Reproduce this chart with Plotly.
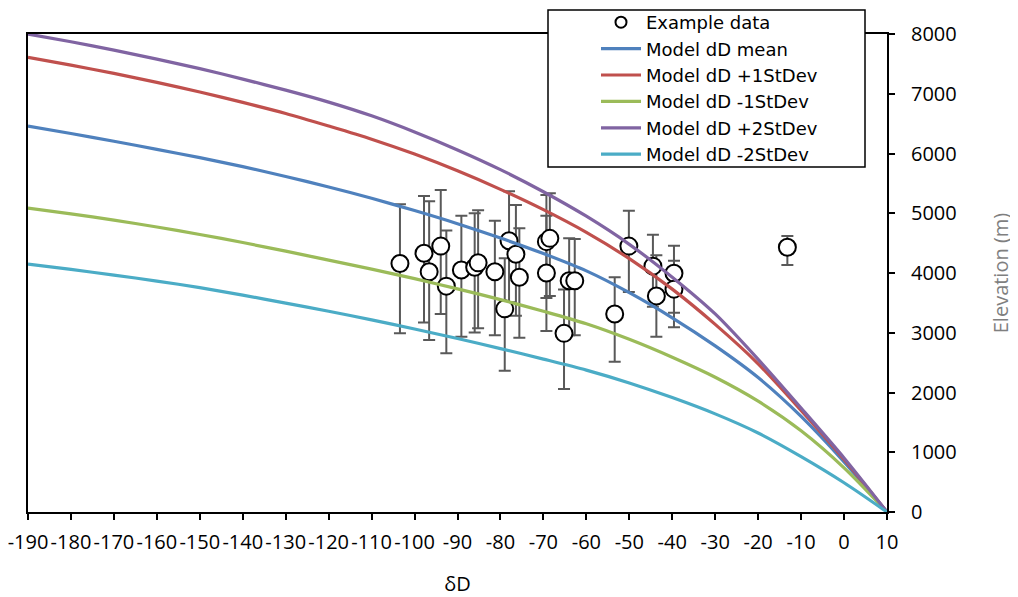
import plotly.graph_objects as go

# ---- model curves ----
model_dD = [-190, -180, -170, -160, -150, -140, -130, -120, -110, -100, -90,
            -80, -70, -60, -50, -40, -30, -20, -10, 0, 10]
mean_elev = [6460, 6335, 6205, 6070, 5930, 5780, 5615, 5440, 5250, 5045, 4825,
             4585, 4325, 4035, 3670, 3250, 2780, 2250, 1600, 840, 0]
plus1_elev = [7610, 7480, 7340, 7190, 7030, 6855, 6670, 6460, 6240, 5990, 5710,
              5400, 5060, 4680, 4240, 3730, 3140, 2480, 1700, 880, 0]
minus1_elev = [5085, 4990, 4885, 4770, 4645, 4510, 4365, 4215, 4065, 3905, 3735,
               3555, 3360, 3150, 2890, 2590, 2255, 1855, 1360, 740, 0]
plus2_elev = [8000, 7870, 7730, 7580, 7420, 7245, 7060, 6860, 6630, 6360, 6060,
              5730, 5360, 4950, 4480, 3930, 3315, 2555, 1740, 905, 0]
minus2_elev = [4150, 4060, 3965, 3865, 3755, 3630, 3495, 3360, 3215, 3063, 2903,
               2735, 2559, 2375, 2160, 1915, 1642, 1322, 927, 490, 0]

# ---- example data ----
sample_dD = [-103.4, -97.8, -96.6, -93.9, -92.6, -89.1, -86.0, -85.2, -81.3, -79.0,
             -78.0, -76.4, -75.6, -69.3, -69.3, -68.5, -64.0, -62.7, -65.2, -53.4,
             -50.1, -44.5, -43.7, -39.6, -39.6, -13.2]
sample_elev = [4160, 4330, 4020, 4450, 3780, 4050, 4095, 4170, 4020, 3400,
               4540, 4315, 3930, 4000, 4525, 4580, 3870, 3870, 2990, 3315,
               4450, 4115, 3615, 3995, 3730, 4430]
err_plus = [990, 960, 1180, 940, 930, 910, 905, 880, 855, 845,
            830, 825, 820, 960, 780, 755, 710, 700, 735, 615,
            590, 525, 680, 460, 475, 190]
err_minus = [1170, 1160, 1140, 1135, 1125, 1115, 1090, 1095, 1060, 1035,
             1030, 1030, 1015, 970, 945, 965, 910, 910, 930, 800,
             770, 680, 680, 660, 640, 295]

x_ticks = [-190, -180, -170, -160, -150, -140, -130, -120, -110, -100, -90,
           -80, -70, -60, -50, -40, -30, -20, -10, 0, 10]
x_ticktext = ["-190", "-180", "-170", "-160", "-150", "-140", "-130", "-120",
              "-110", "-100", "-90", "-80", "-70", "-60", "-50", "-40", "-30",
              "-20", "-10", "0", "10"]
y_ticks = [0, 1000, 2000, 3000, 4000, 5000, 6000, 7000, 8000]

FONT = "Open Sans"
LEG_FONT = "DejaVu Sans"

# plot area in the screenshot: x 28..887, y 34..512 (page has an 8px body margin)
PW, PH = 859, 478

fig = go.Figure()

fig.add_trace(go.Scatter(
    x=sample_dD, y=sample_elev, mode="markers", name="Example data",
    showlegend=False,
    marker=dict(symbol="circle", size=17, color="white",
                line=dict(color="black", width=2)),
    error_y=dict(type="data", symmetric=False, array=err_plus,
                 arrayminus=err_minus, color="#595959", thickness=2, width=6),
))
# legend entry for the data (smaller symbol, as in the original legend)
fig.add_trace(go.Scatter(
    x=[None], y=[None], mode="markers", name="Example data",
    marker=dict(symbol="circle", size=11, color="white",
                line=dict(color="black", width=2)),
))

curves = [
    ("Model dD mean", mean_elev, "#4F81BD"),
    ("Model dD +1StDev", plus1_elev, "#C0504D"),
    ("Model dD -1StDev", minus1_elev, "#9BBB59"),
    ("Model dD +2StDev", plus2_elev, "#8064A2"),
    ("Model dD -2StDev", minus2_elev, "#4BACC6"),
]
for name, vals, col in curves:
    fig.add_trace(go.Scatter(
        x=model_dD, y=vals, mode="lines", name=name,
        line=dict(color=col, width=3.2, shape="spline", smoothing=0.8),
    ))

# legend box
fig.add_shape(type="rect", xref="paper", yref="paper",
              x0=(548 - 28) / PW, x1=(865 - 28) / PW,
              y0=(512 - 167) / PH, y1=(512 - 10) / PH,
              line=dict(color="black", width=1.5), fillcolor="white",
              layer="above")

fig.update_layout(
    width=1018, height=597, autosize=False,
    margin=dict(l=20, r=139, t=26, b=93, autoexpand=False),
    paper_bgcolor="white", plot_bgcolor="white",
    font=dict(family=FONT, size=20, color="black"),
    showlegend=True,
    legend=dict(x=(596 - 28) / PW, xanchor="left",
                y=(512 - 4) / PH, yanchor="top",
                bgcolor="rgba(0,0,0,0)", borderwidth=0,
                font=dict(family=LEG_FONT, size=18, color="black"),
                tracegroupgap=0, itemwidth=40),
    xaxis=dict(range=[-190, 10], tickmode="array", tickvals=x_ticks,
               ticktext=x_ticktext, tickangle=0, automargin=False,
               ticklabeloverflow="allow",
               ticks="outside", ticklen=6, tickwidth=1.5,
               tickcolor="black", showline=True, linecolor="black", linewidth=2,
               mirror=True, showgrid=False, zeroline=False,
               ticklabelstandoff=5,
               title=dict(text="δD", font=dict(family=FONT, size=20, color="black"),
                          standoff=23)),
    yaxis=dict(range=[0, 8000], side="right", tickmode="array", tickvals=y_ticks,
               automargin=False, ticklabeloverflow="allow",
               ticks="outside", ticklen=6, tickwidth=1.5, tickcolor="black",
               showline=True, linecolor="black", linewidth=2, mirror=True,
               showgrid=False, zeroline=False, ticklabelstandoff=12,
               title=dict(text="Elevation (m)",
                          font=dict(family=FONT, size=20, color="#7F7F7F"),
                          standoff=38)),
)

fig.write_html("out.html")
